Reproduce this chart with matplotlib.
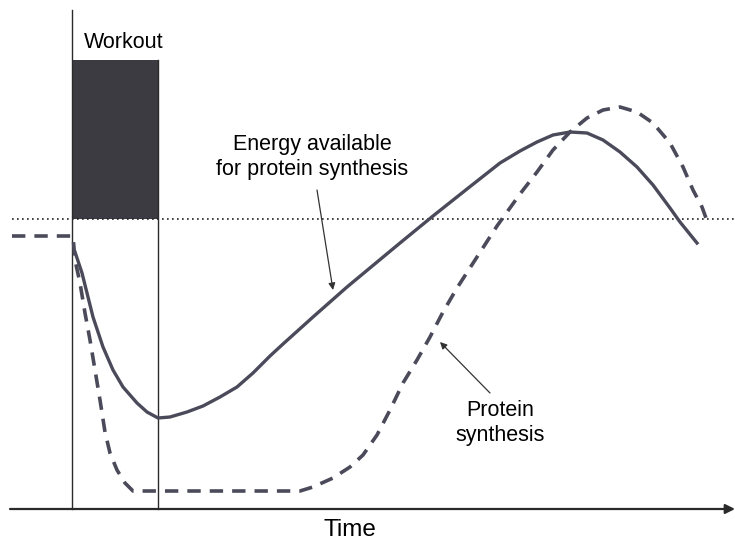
import numpy as np
import matplotlib.pyplot as plt

#------------------------------------------------------------------
FONT = "Liberation Sans"
LINECOLOR = "#4a4a5a"
BOXCOLOR = "#3b3b41"
BASELINE = 290        # resting level (dotted line)
WORKOUT = (0, 86)     # workout start / end
BOX_TOP = 449
#------------------------------------------------------------------

# protein synthesis (dashed) (arbitrary units)
protein_t = [-60, 1, 3, 8, 13, 18, 23, 28, 33, 38, 45, 53, 61, 128, 228, 241, 261, 278,
             291, 305, 318, 331, 345, 358, 371, 385, 405, 425, 448, 465, 481, 498, 515,
             531, 548, 565, 581, 598, 611, 621, 630, 634]
protein_v = [273, 273, 249, 226, 196, 169, 139, 109, 77, 56, 39, 26, 18, 18, 18, 22, 31, 42,
             54, 74, 99, 126, 149, 172, 197, 221, 252, 283, 315, 337, 359, 377, 391,
             399, 402, 397, 386, 366, 342, 319, 302, 291]

# energy available for protein synthesis (solid)
energy_t = [3, 5, 10, 15, 21, 31, 41, 51, 65, 75, 86, 98, 115, 131, 148, 165, 181, 198,
            211, 241, 275, 328, 361, 395, 428, 448, 465, 481, 498, 515, 531, 548, 565,
            581, 598, 608, 625]
energy_v = [257, 251, 236, 216, 192, 162, 139, 122, 106, 97, 91, 92, 97, 103, 112, 122, 136, 153,
            165, 192, 222, 266, 293, 320, 346, 358, 367, 374, 377, 376, 369, 357, 342,
            324, 301, 287, 266]

fig = plt.figure(figsize=(7.35, 5.43), dpi=100)
ax = fig.add_axes([0, 0, 1, 1])
ax.set_xlim(-72, 663)
ax.set_ylim(-34, 509)
ax.axis("off")

# workout block and reference lines
ax.fill_between(WORKOUT, BASELINE, BOX_TOP, color=BOXCOLOR, linewidth=0, zorder=1)
ax.plot([-60, 663], [BASELINE, BASELINE], ls=(0, (1, 2)), color="#222222", lw=1.2, zorder=2)
ax.plot([WORKOUT[0], WORKOUT[0]], [0, 499], color="#2a2a2a", lw=1.0, zorder=2)
ax.plot([WORKOUT[1], WORKOUT[1]], [0, BOX_TOP], color="#2a2a2a", lw=1.0, zorder=2)
ax.annotate("", xy=(663, 0), xytext=(-62, 0),
            arrowprops=dict(arrowstyle="-|>", color="#2a2a2a", lw=1.6, mutation_scale=14,
                            shrinkA=0, shrinkB=0), zorder=2)

# curves
ax.plot(protein_t, protein_v, color=LINECOLOR, lw=2.6, ls=(0, (3.7, 2.5)), zorder=3)
ax.plot(energy_t, energy_v, color=LINECOLOR, lw=2.4, zorder=3)

# labels
ax.text(52, 467, "Workout", fontsize=15.5, family=FONT, ha="center", va="center")
ax.text(240, 352, "Energy available\nfor protein synthesis", fontsize=15.5, family=FONT,
        ha="center", va="center", linespacing=1.3)
ax.text(428, 86, "Protein\nsynthesis", fontsize=15.5, family=FONT,
        ha="center", va="center", linespacing=1.3)
ax.text(278, -21, "Time", fontsize=17.5, family=FONT, ha="center", va="center")

ax.annotate("", xy=(261, 219), xytext=(245, 319),
            arrowprops=dict(arrowstyle="-|>", color="#333333", lw=0.9, mutation_scale=10,
                            shrinkA=0, shrinkB=0))
ax.annotate("", xy=(368, 167), xytext=(418, 116),
            arrowprops=dict(arrowstyle="-|>", color="#333333", lw=0.9, mutation_scale=10,
                            shrinkA=0, shrinkB=0))

plt.savefig("out.png", dpi=100)
